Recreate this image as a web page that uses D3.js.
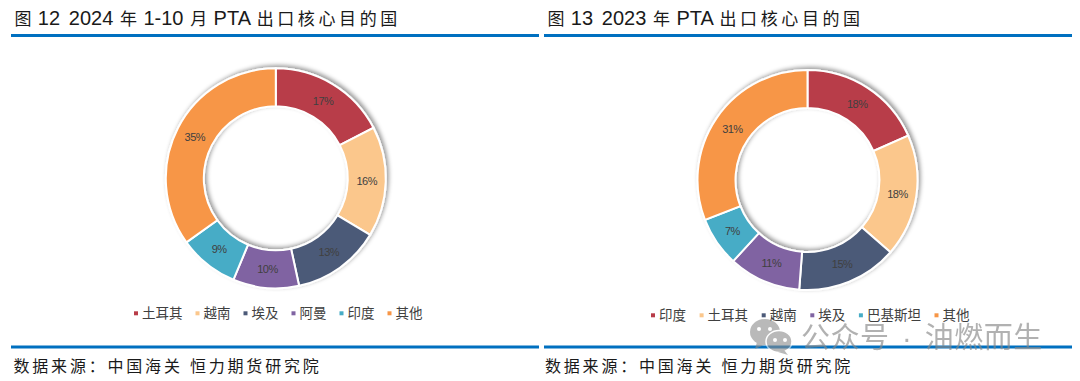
<!DOCTYPE html>
<html>
<head>
<meta charset="utf-8">
<script src="https://cdn.jsdelivr.net/npm/d3@7"></script>
<style>
    html, body { margin: 0; padding: 0; background: #fff; overflow: hidden; }
    text { font-family: "Liberation Sans", "Noto Sans CJK SC", sans-serif; }
</style>
</head>
<body>
<div id="chart"></div>
<script>
// data, labels on the ring are these shares rounded
var leftTitle = "图 12  2024 年 1-10 月 PTA 出口核心目的国";
var leftNames = ["土耳其", "越南", "埃及", "阿曼", "印度", "其他"];
var leftValues = [17.4, 16.2, 13, 9.7, 8.8, 34.9];

var rightTitle = "图 13  2023 年 PTA 出口核心目的国";
var rightNames = ["印度", "土耳其", "越南", "埃及", "巴基斯坦", "其他"];
var rightValues = [18.4, 18, 14.8, 10.6, 7.3, 30.9];

var sourceText = "数据来源：中国海关 恒力期货研究院";
var watermarkText = "公众号 · 油燃而生";
var sliceColors = ["#b83c48", "#fbc78c", "#4c5a78", "#8064a2", "#47acc6", "#f79646"];

var svg = d3.select("#chart").append("svg")
    .attr("width", 1080)
    .attr("height", 381);

var defs = svg.append("defs");
var shadow = defs.append("filter")
    .attr("id", "ringShadow")
    .attr("x", "-10%").attr("y", "-10%")
    .attr("width", "120%").attr("height", "120%");
shadow.append("feDropShadow")
    .attr("dx", 2).attr("dy", -2)
    .attr("stdDeviation", 2)
    .attr("flood-color", "#000")
    .attr("flood-opacity", 0.4);

var color = d3.scaleOrdinal().range(sliceColors);
var pie = d3.pie().sort(null);
var arc = d3.arc().innerRadius(72).outerRadius(110);

function drawTitle(panel, title, x) {
    var label = panel.append("text")
        .attr("x", x).attr("y", 25)
        .attr("fill", "#1a1a1a")
        .style("white-space", "pre");

    // chinese runs are spaced out, the latin runs are larger and tight
    title.match(/[\u4e00-\u9fff]+|[^\u4e00-\u9fff]+/g).forEach(function (run, i) {
        var isCjk = /[\u4e00-\u9fff]/.test(run);
        label.append("tspan")
            .attr("dx", i == 0 ? 0 : (isCjk ? 2.4 : -1.6))
            .attr("font-size", isCjk ? 17 : 20)
            .attr("letter-spacing", isCjk ? 3.6 : 0)
            .attr("word-spacing", isCjk ? 0 : -1.2)
            .text(run);
    });
}

function drawPanel(opts) {
    var panel = svg.append("g").attr("transform", "translate(" + opts.x + ",0)");

    drawTitle(panel, opts.title, 3.5);

    panel.append("rect")
        .attr("x", 0).attr("y", 34)
        .attr("width", 528).attr("height", 3)
        .attr("fill", "#0070c0");

    panel.append("rect")
        .attr("x", 0).attr("y", 345.5)
        .attr("width", 528).attr("height", 3)
        .attr("fill", "#0070c0");

    panel.append("text")
        .attr("x", opts.sourceX).attr("y", 371.5)
        .attr("font-size", 16)
        .attr("letter-spacing", 2.8)
        .attr("fill", "#1a1a1a")
        .text(sourceText);

    // ring
    var ring = panel.append("g")
        .attr("transform", "translate(" + opts.cx + "," + opts.cy + ")");

    var slices = ring.append("g").attr("filter", "url(#ringShadow)");
    slices.selectAll("path")
        .data(pie(opts.values))
        .enter()
        .append("path")
        .attr("d", arc)
        .attr("fill", function (d, i) { return color(i); })
        .attr("stroke", "#fff")
        .attr("stroke-width", 2);

    ring.selectAll("text")
        .data(pie(opts.values))
        .enter()
        .append("text")
        .attr("transform", function (d) {
            return "translate(" + arc.centroid(d) + ")";
        })
        .attr("text-anchor", "middle")
        .attr("dy", "0.36em")
        .attr("font-size", 11)
        .attr("letter-spacing", -0.5)
        .attr("fill", "#404040")
        .text(function (d) { return Math.round(d.value) + "%"; });

    // legend, each entry starts where the last one ended
    var legendX = opts.legendX;
    opts.names.forEach(function (name, i) {
        panel.append("rect")
            .attr("x", legendX).attr("y", opts.legendY - 2)
            .attr("width", 4).attr("height", 4)
            .attr("fill", color(i));
        panel.append("text")
            .attr("x", legendX + 8).attr("y", opts.legendY + 5)
            .attr("font-size", 13.5)
            .attr("fill", "#404040")
            .text(name);
        legendX += 8 + name.length * 13.5 + opts.legendGap;
    });
}

drawPanel({
    x: 11, title: leftTitle, sourceX: 2.5, names: leftNames, values: leftValues,
    cx: 264.8, cy: 178.3, legendX: 123, legendY: 313.3, legendGap: 13
});

drawPanel({
    x: 544, title: rightTitle, sourceX: 1, names: rightNames, values: rightValues,
    cx: 263.5, cy: 180, legendX: 107, legendY: 315.3, legendGap: 13.6
});

// watermark
var mark = svg.append("g").attr("opacity", 0.6);
mark.append("ellipse").attr("cx", 765).attr("cy", 332)
    .attr("rx", 15).attr("ry", 13).attr("fill", "#8c8c8c");
mark.append("path").attr("d", "M757 342 L755 349 L764 345 Z").attr("fill", "#8c8c8c");
mark.append("ellipse").attr("cx", 779).attr("cy", 341.5)
    .attr("rx", 13).attr("ry", 11).attr("fill", "#8c8c8c")
    .attr("stroke", "#fff").attr("stroke-width", 1.5);
mark.append("path").attr("d", "M784 350 L788 355 L778 352 Z").attr("fill", "#8c8c8c");
[[759, 329], [770, 329], [775, 340], [785, 340]].forEach(function (p) {
    mark.append("circle").attr("cx", p[0]).attr("cy", p[1]).attr("r", 2).attr("fill", "#fff");
});
svg.append("text")
    .attr("x", 801).attr("y", 347.5)
    .attr("font-size", 29)
    .attr("letter-spacing", 0.5)
    .attr("word-spacing", 4)
    .attr("fill", "#888")
    .attr("opacity", 0.65)
    .text(watermarkText);
</script>
</body>
</html>
